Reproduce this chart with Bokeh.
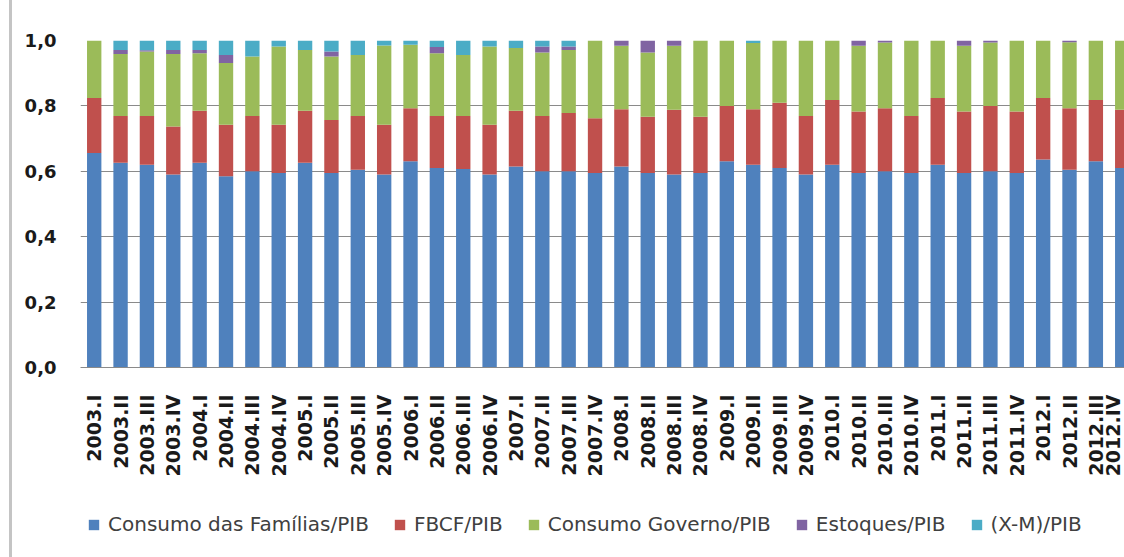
from bokeh.plotting import figure
from bokeh.layouts import column
from bokeh.models import (ColumnDataSource, Range1d, FixedTicker, Legend,
                          CustomJSTickFormatter)
from bokeh.embed import file_html
from bokeh.resources import INLINE

# Quarterly composition of GDP (shares of PIB), 2003.I - 2012.IV
trimestres = [f"{ano}.{q}" for ano in range(2003, 2013) for q in ("I", "II", "III", "IV")]

consumo_familias = [0.656, 0.626, 0.620, 0.590, 0.626, 0.585, 0.600, 0.595, 0.626, 0.595,
                    0.605, 0.590, 0.631, 0.610, 0.607, 0.590, 0.615, 0.600, 0.600, 0.595,
                    0.615, 0.595, 0.590, 0.595, 0.631, 0.620, 0.610, 0.590, 0.620, 0.595,
                    0.600, 0.595, 0.620, 0.595, 0.600, 0.595, 0.636, 0.605, 0.631, 0.610]
fbcf = [0.168, 0.143, 0.149, 0.147, 0.159, 0.157, 0.169, 0.147, 0.159, 0.162,
        0.164, 0.152, 0.162, 0.159, 0.162, 0.152, 0.170, 0.169, 0.178, 0.167,
        0.175, 0.172, 0.198, 0.172, 0.169, 0.170, 0.200, 0.179, 0.198, 0.188,
        0.193, 0.174, 0.204, 0.188, 0.200, 0.188, 0.188, 0.188, 0.187, 0.178]
consumo_governo = [0.176, 0.190, 0.197, 0.222, 0.176, 0.189, 0.182, 0.240, 0.186, 0.194,
                   0.187, 0.243, 0.194, 0.192, 0.187, 0.240, 0.192, 0.194, 0.193, 0.238,
                   0.194, 0.196, 0.196, 0.233, 0.200, 0.202, 0.190, 0.231, 0.182, 0.201,
                   0.201, 0.231, 0.176, 0.201, 0.194, 0.217, 0.176, 0.202, 0.182, 0.212]
estoques = [0.000, 0.012, 0.004, 0.012, 0.010, 0.025, 0.000, 0.000, 0.000, 0.015,
            0.000, 0.000, 0.000, 0.019, 0.000, 0.000, 0.000, 0.019, 0.011, 0.000,
            0.016, 0.037, 0.016, 0.000, 0.000, 0.000, 0.000, 0.000, 0.000, 0.016,
            0.006, 0.000, 0.000, 0.016, 0.006, 0.000, 0.000, 0.005, 0.000, 0.000]
exportacoes_liquidas = [0.000, 0.029, 0.030, 0.029, 0.029, 0.044, 0.049, 0.018, 0.029, 0.034,
                        0.044, 0.015, 0.013, 0.020, 0.044, 0.018, 0.023, 0.018, 0.018, 0.000,
                        0.000, 0.000, 0.000, 0.000, 0.000, 0.008, 0.000, 0.000, 0.000, 0.000,
                        0.000, 0.000, 0.000, 0.000, 0.000, 0.000, 0.000, 0.000, 0.000, 0.000]

series = ["familias", "fbcf", "governo", "estoques", "xm"]
nomes = ["Consumo das Famílias/PIB", "FBCF/PIB", "Consumo Governo/PIB",
         "Estoques/PIB", "(X-M)/PIB"]
cores = ["#4F81BD", "#C0504D", "#9BBB59", "#8064A2", "#4BACC6"]

source = ColumnDataSource(data=dict(
    x=list(range(len(trimestres))),
    familias=consumo_familias,
    fbcf=fbcf,
    governo=consumo_governo,
    estoques=estoques,
    xm=exportacoes_liquidas,
))

# light chart-area border on the left edge
borda = {"border-left": "3px solid #c4c4c4", "margin-left": "9px"}

p = figure(frame_width=1044, frame_height=327, output_backend="svg", toolbar_location=None,
           x_range=Range1d(-0.52, 39.2), y_range=Range1d(0, 1.0),
           min_border_left=68, min_border_right=0, min_border_top=40,
           min_border_bottom=125, outline_line_color=None)
p.styles = borda

p.vbar_stack(series, x="x", width=0.545, source=source,
             fill_color=cores, line_color=None)

# y axis: comma decimal labels, no axis line or ticks
p.yaxis.ticker = FixedTicker(ticks=[0.0, 0.2, 0.4, 0.6, 0.8, 1.0])
p.yaxis.formatter = CustomJSTickFormatter(code="return tick.toFixed(1).replace('.', ',');")
p.yaxis.axis_line_color = None
p.yaxis.major_tick_line_color = None
p.yaxis.minor_tick_line_color = None
p.yaxis.major_label_standoff = 18
p.yaxis.major_label_text_font = "DejaVu Sans"
p.yaxis.major_label_text_font_style = "bold"
p.yaxis.major_label_text_font_size = "18px"
p.yaxis.major_label_text_color = "#1a1a1a"

# x axis: vertical quarter labels
p.xaxis.ticker = FixedTicker(ticks=list(range(len(trimestres))))
p.xaxis.major_label_overrides = {i: t for i, t in enumerate(trimestres)}
p.xaxis.major_label_orientation = 1.5708
p.xaxis.axis_line_color = "#8a8a8a"
p.xaxis.major_tick_line_color = None
p.xaxis.minor_tick_line_color = None
p.xaxis.major_label_standoff = 21
p.xaxis.major_label_text_font = "DejaVu Sans"
p.xaxis.major_label_text_font_style = "bold"
p.xaxis.major_label_text_font_size = "19px"
p.xaxis.major_label_text_color = "#1a1a1a"

p.xgrid.grid_line_color = None
p.ygrid.grid_line_color = "#8a8a8a"
p.ygrid.ticker = FixedTicker(ticks=[0.0, 0.2, 0.4, 0.6, 0.8, 1.0])

# legend strip below the chart; its renderers share the series source but
# the strip's y range lies above the data, so only the legend is visible
pl = figure(width=1112, height=65, output_backend="svg", toolbar_location=None,
            x_range=Range1d(-0.52, 39.2), y_range=Range1d(2, 3), min_border=0,
            outline_line_color=None, x_axis_location=None, y_axis_location=None)
pl.styles = borda
pl.grid.grid_line_color = None
swatches = pl.vbar_stack(series, x="x", width=0.545, source=source,
                         fill_color=cores, line_color=None)

legend = Legend(items=[(n, [r]) for n, r in zip(nomes, swatches)],
                orientation="horizontal", location=(7, 21),
                label_text_font="DejaVu Sans", label_text_font_size="20px",
                label_text_color="#404040", glyph_width=13, glyph_height=13,
                label_standoff=8, spacing=24, padding=8, margin=0,
                border_line_color=None, background_fill_alpha=0)
pl.add_layout(legend)

layout = column(p, pl, spacing=0)
open("out.html", "w").write(file_html(layout, INLINE))
